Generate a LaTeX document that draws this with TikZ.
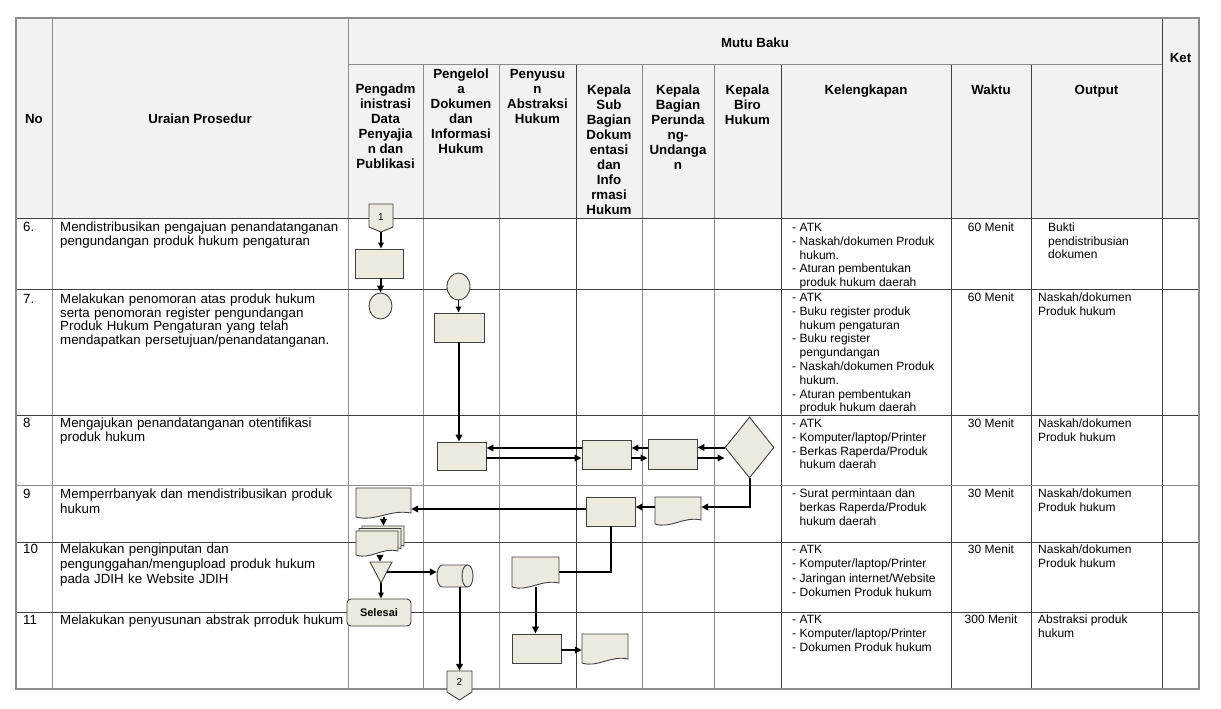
\documentclass[tikz,border=0pt]{standalone}
\usepackage{fontspec}
\setmainfont{Liberation Sans}
\usetikzlibrary{shapes.geometric,arrows.meta,calc}
\definecolor{shp}{HTML}{ECEADF}
\definecolor{gridd}{HTML}{404040}
\definecolor{gridl}{HTML}{8C8C8C}
\definecolor{hdbg}{HTML}{F2F2F2}
\newcommand\fbd{\fontsize{13.3}{13.5}\selectfont}
\newcommand\fbdw{\fontsize{13.3}{15}\selectfont}
\newcommand\fhd{\fontsize{13.3}{15}\selectfont\bfseries}
\newcommand\fsm{\fontsize{12}{13.8}\selectfont}
\newcommand\fsmw{\fontsize{12}{14.3}\selectfont}
\newcommand\js[1]{\makebox[283pt][s]{#1}}
\newcommand\drawdoc[4]{\filldraw[shpline] (#1,#2) -- (#3,#2) -- (#3,{#4-4}) .. controls ({#1+0.62*(#3-#1)},{#4-8}) and ({#1+0.35*(#3-#1)},{#4+5}) .. (#1,#4) -- cycle;}
\begin{document}
\begin{tikzpicture}[x=1pt,y=-1pt,line join=miter,
  gl/.style={draw=gridl,line width=1pt},
  gk/.style={draw=gridd,line width=1pt},
  shpline/.style={draw=gridd,fill=shp,line width=0.9pt},
  box/.style={draw=gridd,fill=shp,line width=0.9pt,rectangle,inner sep=0pt},
  anchorbox/.style={rectangle,inner sep=0pt,draw=none},
  arr/.style={line width=2pt,-{Triangle[length=7pt,width=6.5pt]}},
  arrt/.style={line width=1.1pt,-{Triangle[length=6pt,width=5.5pt]}},
  lnk/.style={line width=2pt},
  hd/.style={font=\fhd,align=center,inner sep=0pt,anchor=north},
  bd/.style={font=\fbd,inner sep=0pt,anchor=north west,align=left},
  sm/.style={font=\fsm,inner sep=0pt,anchor=north west,align=left},
  wk/.style={font=\fsm,inner sep=0pt,anchor=center}]
\useasboundingbox (0,0) rectangle (1221,709);
\fill[white] (0,0) rectangle (1221,709);
\fill[hdbg] (16,18) rectangle (1199,218);
% ---------- table ----------
\draw[gl] (52,18) -- (52,689);
\draw[gl] (348,18) -- (348,689);
\draw[gk] (1162,18) -- (1162,689);
\draw[gl] (423,65) -- (423,689);
\draw[gl] (499,65) -- (499,689);
\draw[gk] (576,65) -- (576,689);
\draw[gl] (642,65) -- (642,689);
\draw[gl] (714,65) -- (714,689);
\draw[gk] (781,65) -- (781,689);
\draw[gk] (951,65) -- (951,689);
\draw[gk] (1031,65) -- (1031,689);
\draw[gl] (348,65) -- (1162,65);
\draw[gk] (16,218) -- (1199,218);
\draw[gk] (16,289) -- (1199,289);
\draw[gk] (16,415) -- (1199,415);
\draw[gl] (16,485) -- (1199,485);
\draw[gk] (16,542) -- (1199,542);
\draw[gk] (16,612) -- (1199,612);
\draw[draw=gridl,line width=1.6pt] (16,18) rectangle (1199,689);
% ---------- header ----------
\node[hd,anchor=center] (hno) at (34,118.5) {No};
\node[hd,anchor=center] (hur) at (200,118.5) {Uraian Prosedur};
\node[hd,anchor=center] (hmb) at (755,43) {Mutu Baku};
\node[hd,anchor=center] (hket) at (1180.5,58) {Ket};
\node[hd] (h1) at (385.5,84) {Pengadm\\inistrasi\\Data\\Penyajia\\n dan\\Publikasi};
\node[hd] (h2) at (461,69) {Pengelol\\a\\Dokumen\\dan\\Informasi\\Hukum};
\node[hd] (h3) at (537.5,69) {Penyusu\\n\\Abstraksi\\Hukum};
\node[hd] (h4) at (609,85) {Kepala\\Sub\\Bagian\\Dokum\\entasi\\dan\\Info\\rmasi\\Hukum};
\node[hd] (h5) at (678,85) {Kepala\\Bagian\\Perunda\\ng-\\Undanga\\n};
\node[hd] (h6) at (747.5,85) {Kepala\\Biro\\Hukum};
\node[hd,anchor=base] (h7) at (866,94) {Kelengkapan};
\node[hd,anchor=base] (h8) at (991,94) {Waktu};
\node[hd,anchor=base] (h9) at (1096.5,94) {Output};
% ---------- row texts ----------
\node[bd] (n6) at (23,222) {6.};
\node[bd] (n7) at (23,294) {7.};
\node[bd] (n8) at (23,418) {8};
\node[bd] (n9) at (23,489) {9};
\node[bd] (n10) at (23,544) {10};
\node[bd] (n11) at (23,615) {11};
\node[bd,text width=283pt] (u6) at (60,222) {\js{Mendistribusikan pengajuan penandatanganan}\\pengundangan produk hukum pengaturan};
\node[bd,text width=283pt] (u7) at (60,294) {\js{Melakukan penomoran atas produk hukum}\\\js{serta penomoran register pengundangan}\\\js{Produk Hukum Pengaturan yang telah}\\mendapatkan persetujuan/penandatanganan.};
\node[bd,text width=283pt] (u8) at (60,418) {\js{Mengajukan penandatanganan otentifikasi}\\produk hukum};
\node[bd,text width=283pt,font=\fbdw] (u9) at (60,489) {\js{Memperrbanyak dan mendistribusikan produk}\\hukum};
\node[bd,text width=283pt,font=\fbdw] (u10) at (60,544) {Melakukan penginputan dan\\pengunggahan/mengupload produk hukum\\pada JDIH ke Website JDIH};
\node[bd,text width=290pt] (u11) at (60,615) {Melakukan penyusunan abstrak prroduk hukum};
% Kelengkapan
\node[sm] (k6) at (792,221.6) {\begin{tabular}{@{}l@{\hspace{3.5pt}}l@{}}-&ATK\\-&Naskah/dokumen Produk\\&hukum.\\-&Aturan pembentukan\\&produk hukum daerah\end{tabular}};
\node[sm] (k7) at (792,291.6) {\begin{tabular}{@{}l@{\hspace{3.5pt}}l@{}}-&ATK\\-&Buku register produk\\&hukum pengaturan\\-&Buku register\\&pengundangan\\-&Naskah/dokumen Produk\\&hukum.\\-&Aturan pembentukan\\&produk hukum daerah\end{tabular}};
\node[sm] (k8) at (792,417.6) {\begin{tabular}{@{}l@{\hspace{3.5pt}}l@{}}-&ATK\\-&Komputer/laptop/Printer\\-&Berkas Raperda/Produk\\&hukum daerah\end{tabular}};
\node[sm] (k9) at (792,487.6) {\begin{tabular}{@{}l@{\hspace{3.5pt}}l@{}}-&Surat permintaan dan\\&berkas Raperda/Produk\\&hukum daerah\end{tabular}};
\node[sm,font=\fsmw] (k10) at (792,543.4) {\begin{tabular}{@{}l@{\hspace{3.5pt}}l@{}}-&ATK\\-&Komputer/laptop/Printer\\-&Jaringan internet/Website\\-&Dokumen Produk hukum\end{tabular}};
\node[sm] (k11) at (792,613.6) {\begin{tabular}{@{}l@{\hspace{3.5pt}}l@{}}-&ATK\\-&Komputer/laptop/Printer\\-&Dokumen Produk hukum\end{tabular}};
% Waktu
\node[wk] (w6) at (991,227) {60 Menit};
\node[wk] (w7) at (991,297) {60 Menit};
\node[wk] (w8) at (991,423) {30 Menit};
\node[wk] (w9) at (991,493) {30 Menit};
\node[wk] (w10) at (991,549) {30 Menit};
\node[wk] (w11) at (991,619) {300 Menit};
% Output
\node[sm] (o6) at (1048,222.5) {Bukti\\pendistribusian\\dokumen};
\node[sm] (o7) at (1038,292.5) {Naskah/dokumen\\Produk hukum};
\node[sm] (o8) at (1038,418.5) {Naskah/dokumen\\Produk hukum};
\node[sm] (o9) at (1038,488.5) {Naskah/dokumen\\Produk hukum};
\node[sm] (o10) at (1038,544.5) {Naskah/dokumen\\Produk hukum};
\node[sm] (o11) at (1038,614.5) {Abstraksi produk\\hukum};
% ---------- flowchart shapes ----------
\filldraw[shpline] (369,204) -- (393,204) -- (393,227) -- (381,232) -- (369,227) -- cycle;
\node[anchorbox,minimum width=24pt,minimum height=30pt,font=\fontsize{10}{12}\selectfont] (c1) at (381,217) {1};
\node[box,minimum width=48pt,minimum height=29pt] (A) at (379,263.5) {};
\node[box,ellipse,minimum width=23pt,minimum height=26pt] (B) at (380.5,306) {};
\node[box,ellipse,minimum width=23pt,minimum height=27pt] (C) at (458.5,286.5) {};
\node[box,minimum width=50pt,minimum height=29pt] (D) at (459,327.5) {};
\node[box,minimum width=49pt,minimum height=28pt] (E) at (461.5,456) {};
\node[box,minimum width=49pt,minimum height=29pt] (F) at (606.5,454.5) {};
\node[box,minimum width=49pt,minimum height=30pt] (G) at (672.5,454) {};
\node[box,diamond,minimum width=49pt,minimum height=61pt] (H) at (749.5,447.5) {};
\drawdoc{655}{497}{701}{524}
\node[anchorbox,minimum width=46pt,minimum height=27pt] (I) at (678,510.5) {};
\node[box,minimum width=49pt,minimum height=29pt] (J) at (610.5,511.5) {};
\drawdoc{356}{488}{411}{517}
\node[anchorbox,minimum width=55pt,minimum height=29pt] (K) at (383.5,502.5) {};
\drawdoc{362}{526}{404}{550}
\drawdoc{359}{528.5}{401}{552.5}
\drawdoc{356}{531}{398}{555}
\node[anchorbox,minimum width=48pt,minimum height=29pt] (L) at (380,540.5) {};
\filldraw[shpline] (370,562) -- (392,562) -- (381,583) -- cycle;
\node[anchorbox,minimum width=22pt,minimum height=21pt] (M) at (381,572.5) {};
\coordinate (m1) at (387,572);
\filldraw[shpline] (442.5,565) -- (467.5,565) .. controls (474.8,565) and (474.8,587) .. (467.5,587) -- (442.5,587) .. controls (435.2,587) and (435.2,565) .. (442.5,565) -- cycle;
\draw[draw=gridd,line width=0.9pt] (467.5,565) .. controls (460.2,565) and (460.2,587) .. (467.5,587);
\node[anchorbox,minimum width=36pt,minimum height=22pt] (N) at (455,576) {};
\node[box,rounded corners=4pt,minimum width=64pt,minimum height=27pt,font=\fontsize{11}{13}\selectfont\bfseries] (O) at (379,612.5) {Selesai};
\filldraw[shpline] (447,671) -- (472,671) -- (472,692) -- (459.5,700) -- (447,692) -- cycle;
\node[anchorbox,minimum width=25pt,minimum height=22pt,font=\fontsize{10}{12}\selectfont] (P) at (459.5,682) {2};
\drawdoc{512}{557}{559}{587}
\node[anchorbox,minimum width=47pt,minimum height=30pt] (Q) at (535.5,572) {};
\node[box,minimum width=49pt,minimum height=29pt] (R) at (536.5,648.5) {};
\drawdoc{582}{634}{628}{663}
\node[anchorbox,minimum width=46pt,minimum height=29pt] (S) at (605,648.5) {};
% ---------- connectors ----------
\coordinate (ya) at (0,448);
\coordinate (yb) at (0,458);
\coordinate (yc) at (0,507);
\coordinate (yd) at (0,509);
\coordinate (yf) at (0,650);
\draw[arrt] (c1.south) -- (c1.south |- A.north);
\draw[arr] (A.south -| B.north) -- (B.north);
\draw[arrt] (C.south) -- (C.south |- D.north);
\draw[arr] (D.south) -- (D.south |- E.north);
\draw[arr] (F.west |- ya) -- (E.east |- ya);
\draw[arr] (E.east |- yb) -- (F.west |- yb);
\draw[arr] (G.west |- ya) -- (F.east |- ya);
\draw[arr] (F.east |- yb) -- (G.west |- yb);
\draw[arr] (H.west) -- (G.east |- H.west);
\draw[arr] (G.east |- yb) -- (H.west |- yb);
\draw[arr] (H.south) |- (I.east |- yc);
\draw[arr] (I.west |- yc) -- (J.east |- yc);
\draw[arr] (J.west |- yd) -- (K.east |- yd);
\draw[arr] (K.south) -- (K.south |- L.north);
\draw[arr] (L.south) -- (L.south |- M.north);
\draw[arr] (m1) -- (N.west |- m1);
\draw[arrt] (M.south) -- (M.south |- O.north);
\draw[arr] (P.north |- N.south) -- (P.north);
\draw[lnk] (J.south) |- (Q.east |- m1);
\draw[arr] (Q.south) -- (Q.south |- R.north);
\draw[arr] (R.east |- yf) -- (S.west |- yf);
\end{tikzpicture}
\end{document}
